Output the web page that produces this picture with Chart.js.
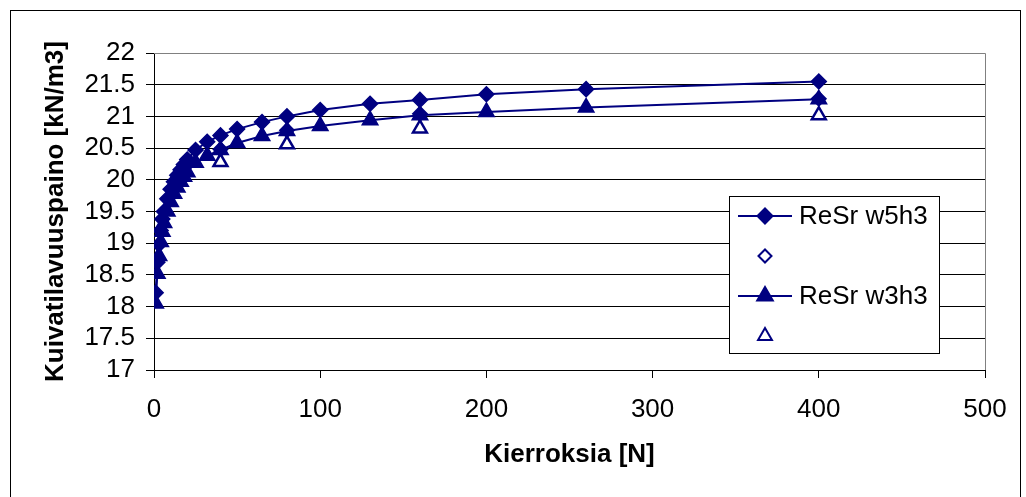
<!DOCTYPE html>
<html>
<head>
<meta charset="utf-8">
<script src="https://cdn.jsdelivr.net/npm/chart.js@4/dist/chart.umd.min.js"></script>
<style>
  html, body { margin: 0; padding: 0; background: #fff; }
  #wrap { width: 1026px; height: 497px; }
</style>
</head>
<body>
<div id="wrap"><canvas id="chart" width="1026" height="497"></canvas></div>
<script>
// kierrokset (N) ja kuivatilavuuspainot
const rounds = [1, 2, 3, 4, 5, 6, 8, 10, 12, 14, 16, 18, 20, 25, 32, 40, 50, 65, 80, 100, 130, 160, 200, 260, 400];
const w5h3 = [18.22, 18.7, 18.98, 19.2, 19.38, 19.5, 19.7, 19.85, 19.97, 20.07, 20.16, 20.24, 20.32, 20.47, 20.6, 20.7, 20.8, 20.91, 21.0, 21.1, 21.2, 21.26, 21.35, 21.43, 21.55];
const w3h3 = [18.05, 18.52, 18.8, 19.02, 19.18, 19.32, 19.5, 19.65, 19.78, 19.88, 19.97, 20.05, 20.12, 20.27, 20.38, 20.47, 20.58, 20.69, 20.77, 20.85, 20.94, 21.02, 21.07, 21.14, 21.27];
const checkRounds = [40, 80, 160, 400];
const w5h3Check = [20.48, 20.78, 21.04, 21.28];
const w3h3Check = [20.28, 20.56, 20.81, 21.02];
const seriesLabels = ["ReSr w5h3", "", "ReSr w3h3", ""];

const NAVY = "#000080";
const FONT = "'Liberation Sans', Arial, sans-serif";
const FONT_SIZE = 26;

function pairs(xs, ys) {
  return xs.map((x, i) => ({ x: x, y: ys[i] }));
}

const frame = {
  id: "frame",
  beforeDraw(chart) {
    const c = chart.ctx;
    c.save();
    c.fillStyle = "#fff";
    c.fillRect(0, 0, chart.width, chart.height);
    c.strokeStyle = "#000";
    c.lineWidth = 1;
    c.strokeRect(10.5, 10.5, chart.width - 16, chart.height + 20);
    c.restore();
  },
  beforeDatasetsDraw(chart) {
    const a = chart.chartArea;
    const c = chart.ctx;
    c.save();
    c.strokeStyle = "#808080";
    c.lineWidth = 1;
    c.beginPath();
    c.moveTo(a.left, Math.round(a.top) + 0.5);
    c.lineTo(Math.round(a.right) + 0.5, Math.round(a.top) + 0.5);
    c.lineTo(Math.round(a.right) + 0.5, a.bottom);
    c.stroke();
    c.restore();
  }
};

// Excel-tyylinen selite: viiva + merkki
const excelLegend = {
  id: "excelLegend",
  afterDatasetsDraw(chart) {
    const a = chart.chartArea;
    const c = chart.ctx;
    const left = Math.round(a.right) - 256;
    const top = Math.round(a.top) + 143;
    c.save();
    c.fillStyle = "#fff";
    c.fillRect(left, top, 210, 157);
    c.strokeStyle = "#000";
    c.lineWidth = 1;
    c.strokeRect(left + 0.5, top + 0.5, 210, 157);
    chart.data.datasets.forEach((ds, i) => {
      const y = top + 20 + i * 40;
      const mx = left + 36;
      if (ds.showLine !== false) {
        c.strokeStyle = ds.borderColor;
        c.lineWidth = 2;
        c.beginPath();
        c.moveTo(left + 9, y);
        c.lineTo(left + 63, y);
        c.stroke();
      }
      c.fillStyle = ds.pointBackgroundColor;
      c.strokeStyle = ds.pointBorderColor;
      Chart.helpers.drawPoint(c, {
        pointStyle: ds.pointStyle,
        radius: ds.pointRadius,
        borderWidth: ds.pointBorderWidth,
        rotation: 0
      }, mx, y);
      if (ds.label) {
        c.fillStyle = "#000";
        c.font = FONT_SIZE + "px " + FONT;
        c.textBaseline = "middle";
        c.textAlign = "left";
        c.fillText(ds.label, left + 70, y + 1);
      }
    });
    c.restore();
  }
};

new Chart(document.getElementById("chart"), {
  type: "scatter",
  data: {
    datasets: [
      {
        label: seriesLabels[0],
        data: pairs(rounds, w5h3),
        showLine: true,
        borderColor: NAVY,
        borderWidth: 2,
        pointStyle: "rectRot",
        pointRadius: 7.5,
        pointBorderWidth: 1.5,
        pointBackgroundColor: NAVY,
        pointBorderColor: NAVY,
        order: 4
      },
      {
        label: seriesLabels[1],
        data: pairs(checkRounds, w5h3Check),
        showLine: false,
        borderColor: NAVY,
        pointStyle: "rectRot",
        pointRadius: 6.5,
        pointBorderWidth: 2.5,
        pointBackgroundColor: "#fff",
        pointBorderColor: NAVY,
        order: 3
      },
      {
        label: seriesLabels[2],
        data: pairs(rounds, w3h3),
        showLine: true,
        borderColor: NAVY,
        borderWidth: 2,
        pointStyle: "triangle",
        pointRadius: 9,
        pointBorderWidth: 1.5,
        pointBackgroundColor: NAVY,
        pointBorderColor: NAVY,
        order: 2
      },
      {
        label: seriesLabels[3],
        data: pairs(checkRounds, w3h3Check),
        showLine: false,
        borderColor: NAVY,
        pointStyle: "triangle",
        pointRadius: 8,
        pointBorderWidth: 2.5,
        pointBackgroundColor: "#fff",
        pointBorderColor: NAVY,
        order: 1
      }
    ]
  },
  options: {
    responsive: false,
    animation: false,
    layout: { padding: { left: 10, top: 53, right: 41, bottom: 0 } },
    plugins: {
      legend: { display: false },
      tooltip: { enabled: false }
    },
    scales: {
      x: {
        type: "linear",
        min: 0,
        max: 500,
        afterFit: s => { s.height = 127; },
        ticks: { stepSize: 100, color: "#000", font: { family: FONT, size: FONT_SIZE }, padding: 16, maxRotation: 0, autoSkip: false },
        grid: { drawOnChartArea: false, drawTicks: true, tickLength: 8, color: "#000" },
        border: { color: "#000", width: 1 },
        title: {
          display: true,
          text: "Kierroksia [N]",
          color: "#000",
          font: { family: FONT, size: FONT_SIZE, weight: "bold" },
          padding: { top: 0, bottom: 27 }
        }
      },
      y: {
        min: 17,
        max: 22,
        afterFit: s => { s.width = 144; },
        ticks: {
          stepSize: 0.5,
          autoSkip: false,
          color: "#000",
          font: { family: FONT, size: FONT_SIZE },
          padding: 11,
          callback: v => String(Math.round(v * 10) / 10)
        },
        grid: {
          color: ctx => (ctx.tick && ctx.tick.value === 22 ? "#808080" : "#000"),
          tickColor: "#000",
          tickLength: 8
        },
        border: { color: "#000", width: 1 },
        title: {
          display: true,
          text: "Kuivatilavuuspaino [kN/m3]",
          color: "#000",
          font: { family: FONT, size: FONT_SIZE, weight: "bold" },
          padding: { top: 30, bottom: 0 }
        }
      }
    }
  },
  plugins: [frame, excelLegend]
});
</script>
</body>
</html>
